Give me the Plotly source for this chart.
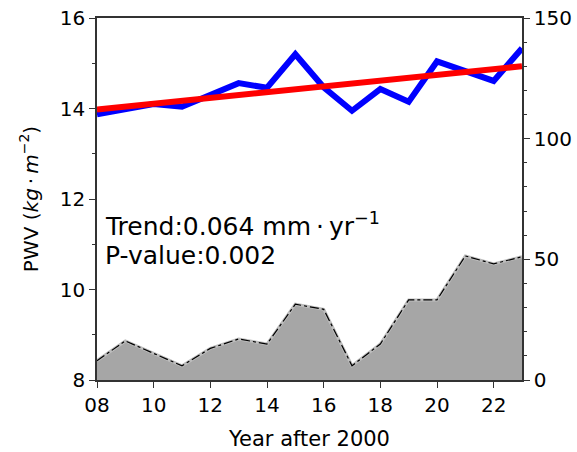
import numpy as np
import plotly.graph_objects as go

# years after 2000
years = list(range(8, 24))
pwv = [13.87, 13.97, 14.10, 14.04, 14.29, 14.56, 14.46, 15.20,
       14.47, 13.95, 14.43, 14.15, 15.04, 14.83, 14.61, 15.33]
area = [8.0, 16.2, 11.0, 5.9, 13.1, 17.0, 14.9, 31.4,
        29.3, 5.9, 14.9, 33.2, 33.2, 51.4, 48.1, 51.1]
xtick_vals = [8, 10, 12, 14, 16, 18, 20, 22]
xtick_text = ["08", "10", "12", "14", "16", "18", "20", "22"]

slope, icept = np.polyfit(years, pwv, 1)
trend = [icept + slope * y for y in years]

FONT = "DejaVu Sans, Arial, sans-serif"

fig = go.Figure()
fig.add_trace(go.Scatter(x=years, y=pwv, mode="lines",
                         line=dict(color="#0000ff", width=6)))
fig.add_trace(go.Scatter(x=[years[0], years[-1]], y=[trend[0], trend[-1]],
                         mode="lines", line=dict(color="#ff0000", width=6)))
fig.add_trace(go.Scatter(x=years, y=area, mode="lines", yaxis="y2",
                         fill="tozeroy", fillcolor="#a6a6a6",
                         line=dict(color="#bdbdbd", width=3)))
fig.add_trace(go.Scatter(x=years, y=area, mode="lines", yaxis="y2",
                         line=dict(color="black", width=1.2, dash="dashdot")))

axis_common = dict(showgrid=False, zeroline=False, linecolor="#333",
                   linewidth=1.5, ticks="outside", ticklen=6, tickwidth=1.2,
                   tickcolor="#333", automargin=False,
                   tickfont=dict(size=20, color="black"))

fig.update_layout(
    width=577, height=452,
    margin=dict(l=97, r=55, t=18, b=72),
    paper_bgcolor="white", plot_bgcolor="white",
    font=dict(family=FONT, color="black"),
    showlegend=False,
    xaxis=dict(range=[8, 23], tickvals=xtick_vals, ticktext=xtick_text,
               mirror=True,
               title=dict(text="Year after 2000", font=dict(size=21), standoff=16),
               **axis_common),
    yaxis=dict(range=[8, 16], dtick=2,
               minor=dict(dtick=1, ticks="outside", ticklen=3, tickcolor="#333"),
               title=dict(text="PWV (<i>kg</i>\u2009·\u2009<i>m</i><sup>−2</sup>)",
                          font=dict(size=20), standoff=16),
               **axis_common),
    yaxis2=dict(range=[0, 150], dtick=50, overlaying="y", side="right",
                minor=dict(dtick=10, ticks="outside", ticklen=3, tickcolor="#333"),
                **axis_common),
)

fig.add_annotation(x=0.015, y=0.43, xref="paper", yref="paper",
                   xanchor="left", yanchor="middle", showarrow=False,
                   text="Trend:%.3f mm\u2009·\u2009yr<sup>−1</sup>" % slope,
                   font=dict(size=25, color="black"))
fig.add_annotation(x=0.015, y=0.343, xref="paper", yref="paper",
                   xanchor="left", yanchor="middle", showarrow=False,
                   text="P-value:0.002", font=dict(size=25, color="black"))

# drop the page's default body margin so the figure sits at the window corner
fig.write_html("out.html", config={"displayModeBar": False},
               post_script="document.body.style.margin='0px';"
                           "document.body.style.overflow='hidden';")
